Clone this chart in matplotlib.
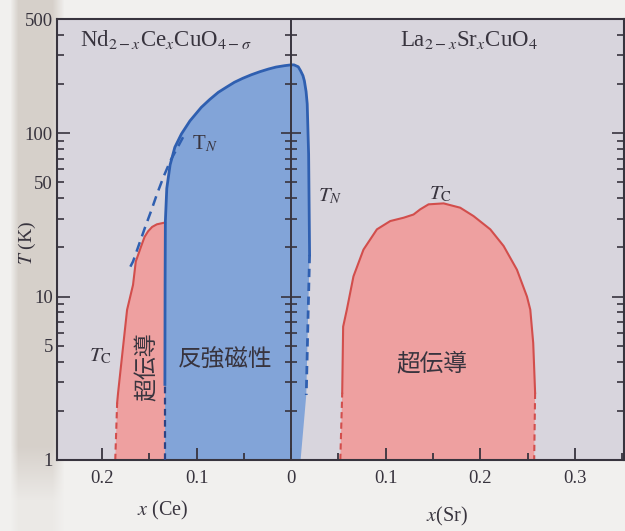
import numpy as np
import matplotlib.pyplot as plt
from matplotlib.ticker import FixedLocator, FuncFormatter, NullFormatter, LogLocator

plt.rcParams["font.family"] = ["Liberation Serif", "DejaVu Serif"]
plt.rcParams["mathtext.fontset"] = "stix"

CJK = ["Noto Sans CJK JP", "DejaVu Sans"]

# Ce doping is plotted on the negative side of the x axis
# antiferromagnetic region (Nd2-xCexCuO4 + undoped parent), outline bottom-left -> top -> bottom-right
afm_x = [-0.1335, -0.1335, -0.1333, -0.133, -0.1315, -0.128, -0.123, -0.116, -0.107,
         -0.095, -0.086, -0.077, -0.068, -0.060, -0.051, -0.042, -0.033, -0.024, -0.016,
         -0.007, 0.000, 0.003, 0.0075, 0.010, 0.0125, 0.014, 0.0158, 0.017,
         0.0185, 0.0195, 0.018, 0.016, 0.010]
afm_t = [1.0, 2.9, 11.8, 29, 46, 64, 82, 99, 119,
         144, 161, 178, 192, 205, 217, 228, 238, 247, 254,
         259, 262, 262, 255, 241, 225, 209, 180, 151,
         74, 18, 8.0, 2.5, 1.0]
SOLID_END = 29  # index where the right-hand T_N line turns dashed

# T_N extrapolation (dashed) on the Ce side
tn_ext_x = [-0.1143, -0.121, -0.128, -0.135, -0.142, -0.148, -0.1545, -0.1672, -0.1704]
tn_ext_t = [94.5, 80, 67.3, 54, 42.2, 33.5, 26.5, 16.4, 15.1]

# superconducting dome, Nd2-xCexCuO4 (left edge, bottom -> top)
sc_nd_x = [-0.186, -0.184, -0.183, -0.1735, -0.1672, -0.1643, -0.158, -0.155, -0.1513,
           -0.147, -0.142, -0.1333]
sc_nd_t = [1.0, 2.24, 2.58, 8.3, 11.8, 16.4, 20.8, 23.2, 25.1,
           26.7, 27.7, 28.4]

# superconducting dome, La2-xSrxCuO4
sc_la_x = [0.052, 0.054, 0.055, 0.0589, 0.0659, 0.0765, 0.0907, 0.1048, 0.119, 0.1294,
           0.1365, 0.1453, 0.1612, 0.1788, 0.1929, 0.2106, 0.2247, 0.2388, 0.2494,
           0.2529, 0.256, 0.258, 0.257]
sc_la_t = [1.0, 2.58, 6.55, 8.32, 13.3, 19.4, 25.8, 29.0, 30.4, 31.8,
           34.2, 36.7, 37.2, 35.0, 31.1, 25.8, 20.4, 14.6, 10.0,
           8.32, 5.2, 2.58, 1.0]

x_ticks = [-0.2, -0.1, 0.0, 0.1, 0.2, 0.3]
x_ticklabels = ["0.2", "0.1", "0", "0.1", "0.2", "0.3"]
x_minor = [-0.15, -0.05, 0.05, 0.15, 0.25, 0.35]
y_labelled = [5, 50, 500]

BG = "#d8d5dd"
BLUE_FILL = "#82a4d8"
BLUE_LINE = "#2f5fb0"
BLUE_DASH = "#2c4384"
RED_FILL = "#eea0a0"
RED_LINE = "#d24e4c"
INK = "#38343e"

fig = plt.figure(figsize=(6.25, 5.31), dpi=100, facecolor="#f1f0ee")

# scanned page edge on the left
bg = fig.add_axes([0, 0, 1, 1], zorder=-10)
bg.axis("off")
H, W = 531, 625
xx, yy = np.meshgrid(np.arange(W), np.arange(H))
band = np.clip((xx - 10) / 8.0, 0, 1) * np.clip((64 - xx) / 12.0, 0, 1)
fade = np.clip((515 - yy) / 70.0, 0.2, 1)
shade = band * fade
base = np.array([241, 240, 238]) / 255.0
edge = np.array([214, 208, 202]) / 255.0
img = base[None, None, :] * (1 - shade[..., None]) + edge[None, None, :] * shade[..., None]
bg.imshow(img, aspect="auto", extent=[0, 1, 0, 1])
bg.set_xlim(0, 1)
bg.set_ylim(0, 1)

ax = fig.add_axes([57 / 625, 1 - 460 / 531, 567 / 625, 441 / 531])
ax.set_facecolor(BG)
ax.set_yscale("log")
ax.set_xlim(-0.2476, 0.352)
ax.set_ylim(1, 500)

# filled phase regions
ax.fill(afm_x, afm_t, color=BLUE_FILL, lw=0, zorder=1)
ax.fill(sc_nd_x + [afm_x[0]], sc_nd_t + [afm_t[0]], color=RED_FILL, lw=0, zorder=1)
ax.fill(sc_la_x, sc_la_t, color=RED_FILL, lw=0, zorder=1)

# phase boundaries
dash = (0, (3, 2))
ax.plot(afm_x[1:SOLID_END + 1], afm_t[1:SOLID_END + 1], color=BLUE_LINE, lw=2.0,
        zorder=3, solid_joinstyle="round")
ax.plot(afm_x[SOLID_END:-1], afm_t[SOLID_END:-1], color=BLUE_LINE, lw=2.0, ls=dash, zorder=3)
ax.plot(afm_x[:2], afm_t[:2], color=BLUE_DASH, lw=1.6, ls=dash, zorder=3)
ax.plot(tn_ext_x, tn_ext_t, color=BLUE_LINE, lw=1.8, ls=(0, (4, 2.5)), zorder=3)
ax.plot(sc_nd_x[1:], sc_nd_t[1:], color=RED_LINE, lw=1.5, zorder=2)
ax.plot(sc_nd_x[:2], sc_nd_t[:2], color=RED_LINE, lw=1.5, ls=dash, zorder=2)
ax.plot(sc_la_x[1:-1], sc_la_t[1:-1], color=RED_LINE, lw=1.5, zorder=2)
ax.plot(sc_la_x[:2], sc_la_t[:2], color=RED_LINE, lw=1.5, ls=dash, zorder=2)
ax.plot(sc_la_x[-2:], sc_la_t[-2:], color=RED_LINE, lw=1.5, ls=dash, zorder=2)

# axes styling
for s in ax.spines.values():
    s.set_color(INK)
    s.set_linewidth(1.5)
ax.xaxis.set_major_locator(FixedLocator(x_ticks))
ax.set_xticklabels(x_ticklabels)
ax.xaxis.set_minor_locator(FixedLocator(x_minor))
ax.yaxis.set_major_locator(FixedLocator([1, 10, 100]))
ax.yaxis.set_major_formatter(FuncFormatter(lambda v, p: "%d" % v))
ax.yaxis.set_minor_locator(LogLocator(base=10, subs=np.arange(2, 10)))
ax.yaxis.set_minor_formatter(FuncFormatter(
    lambda v, p: "%d" % round(v) if any(abs(v - t) < 1e-6 * t for t in y_labelled) else ""))
ax.tick_params(axis="x", which="both", direction="in", top=False, colors=INK,
               labelsize=13.5, pad=7, width=1.3)
ax.tick_params(axis="x", which="major", length=9)
ax.tick_params(axis="x", which="minor", length=5)
ax.tick_params(axis="y", which="both", direction="in", right=True, colors=INK,
               labelsize=13.5, pad=3, width=1.2)
ax.tick_params(axis="y", which="major", length=9)
ax.tick_params(axis="y", which="minor", length=5)

# x = 0 divider with ticks on both sides, drawn over the filled regions
x0 = (0 - ax.get_xlim()[0]) / (ax.get_xlim()[1] - ax.get_xlim()[0])
mid = ax.secondary_yaxis(x0)
mid.set_zorder(4)
mid.spines["left"].set_color(INK)
mid.spines["left"].set_linewidth(1.4)
mid.yaxis.set_major_locator(FixedLocator([1, 10, 100]))
mid.yaxis.set_minor_locator(LogLocator(base=10, subs=np.arange(2, 10)))
mid.yaxis.set_major_formatter(NullFormatter())
mid.yaxis.set_minor_formatter(NullFormatter())
mid.tick_params(which="both", direction="inout", colors=INK, width=1.2)
mid.tick_params(which="major", length=14)
mid.tick_params(which="minor", length=8)

# labels
ax.text(-0.223, 377, r"Nd$_{2-x}$Ce$_x$CuO$_{4-\sigma}$", fontsize=16.5, color=INK,
        ha="left", va="center", zorder=5)
ax.text(0.188, 372, r"La$_{2-x}$Sr$_x$CuO$_4$", fontsize=16.5, color=INK,
        ha="center", va="center", zorder=5)
ax.text(-0.091, 86, r"T$_N$", fontsize=15, color=INK, ha="center", va="center", zorder=5)
ax.text(0.0413, 41, r"$T_N$", fontsize=15, color=INK, ha="center", va="center", zorder=5)
ax.text(0.158, 42, r"$T_\mathrm{C}$", fontsize=15, color=INK, ha="center", va="center", zorder=5)
ax.text(-0.202, 4.3, r"$T_\mathrm{C}$", fontsize=15, color=INK, ha="center", va="center", zorder=5)
ax.text(-0.070, 4.1, "反強磁性", family=CJK, fontsize=17, color=INK,
        ha="center", va="center", zorder=5)
ax.text(0.149, 3.9, "超伝導", family=CJK, fontsize=17, color=INK,
        ha="center", va="center", zorder=5)
ax.text(-0.152, 3.75, "超伝導", family=CJK, fontsize=16.5, color=INK, rotation=90,
        ha="center", va="center", zorder=5)

fig.text(27 / 625, 1 - 243 / 531, r"$T$ (K)", fontsize=14, color=INK, rotation=90,
         ha="center", va="center")
fig.text(163 / 625, 1 - 510 / 531, r"$x$ (Ce)", fontsize=14.5, color=INK,
         ha="center", va="center")
fig.text(447 / 625, 1 - 516 / 531, r"$x$(Sr)", fontsize=14.5, color=INK,
         ha="center", va="center")

fig.savefig("out.png", dpi=100, facecolor=fig.get_facecolor())
